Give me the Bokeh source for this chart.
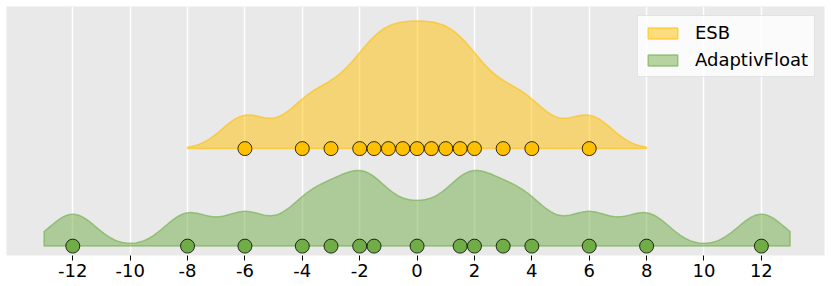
import numpy as np
from bokeh.plotting import figure
from bokeh.models import Range1d, FixedTicker, Legend, LegendItem
from bokeh.embed import file_html
from bokeh.resources import INLINE

# ---- data ----
series_names = ["ESB", "AdaptivFloat"]
esb_values = [-6, -4, -3, -2, -1.5, -1, -0.5, 0, 0.5, 1, 1.5, 2, 3, 4, 6]
adaptiv_values = [-12, -8, -6, -4, -3, -2, -1.5, 0, 1.5, 2, 3, 4, 6, 8, 12]
esb_extent = [-8, 8]
adaptiv_extent = [-13, 13]
tick_values = [-12, -10, -8, -6, -4, -2, 0, 2, 4, 6, 8, 10, 12]
tick_labels = ["-12", "-10", "-8", "-6", "-4", "-2", "0", "2", "4", "6", "8", "10", "12"]
bandwidth = 0.8

# ---- styles ----
FONT = "DejaVu Sans"
ESB_COLOR = "#FFC000"
AF_COLOR = "#70AD47"
ESB_OFFSET = 0.1015


def kde(values, lo, hi, bw, n=400):
    xs = np.linspace(lo, hi, n)
    v = np.asarray(values, dtype=float)
    d = (xs[:, None] - v[None, :]) / bw
    ys = np.exp(-0.5 * d ** 2).sum(axis=1) / (len(v) * bw * np.sqrt(2 * np.pi))
    return xs, ys


p = figure(width=831, height=286, output_backend="svg", toolbar_location=None,
           x_range=Range1d(-14.31, 14.2), y_range=Range1d(-0.00976, 0.2494),
           min_border_left=6, min_border_top=6, min_border_right=7, min_border_bottom=31)
p.background_fill_color = "#e9e9e9"
p.border_fill_color = "white"
p.outline_line_color = None

p.yaxis.visible = False
p.ygrid.visible = False
p.xgrid.grid_line_color = "white"
p.xgrid.grid_line_width = 1.5
p.xgrid.ticker = FixedTicker(ticks=tick_values)

ax = p.xaxis[0]
ax.ticker = FixedTicker(ticks=tick_values)
ax.major_label_overrides = {t: l for t, l in zip(tick_values, tick_labels)}
ax.axis_line_color = None
ax.major_tick_line_color = "black"
ax.major_tick_in = 0
ax.major_tick_out = 5
ax.minor_tick_line_color = None
ax.major_label_text_font = FONT
ax.major_label_text_font_size = "18px"
ax.major_label_text_color = "black"
ax.major_label_standoff = 3

renderers = []
for name, vals, ext, off, col in [
    (series_names[0], esb_values, esb_extent, ESB_OFFSET, ESB_COLOR),
    (series_names[1], adaptiv_values, adaptiv_extent, 0.0, AF_COLOR),
]:
    xs, ys = kde(vals, ext[0], ext[1], bandwidth)
    px = np.concatenate([[ext[0]], xs, [ext[1]]])
    py = np.concatenate([[off], ys + off, [off]])
    r = p.patch(px, py, fill_color=col, fill_alpha=0.5,
                line_color=col, line_alpha=0.6, line_width=1.5)
    renderers.append((name, r))
    p.scatter(vals, [off] * len(vals), size=14, fill_color=col,
              line_color="black", line_width=0.8)

legend = Legend(items=[LegendItem(label=n, renderers=[r]) for n, r in renderers],
                location="top_right")
legend.label_text_font = FONT
legend.label_text_font_size = "18px"
legend.label_text_color = "black"
legend.glyph_width = 37
legend.glyph_height = 14
legend.label_standoff = 14
legend.spacing = 6
legend.padding = 6
legend.margin = 9
legend.background_fill_color = "white"
legend.background_fill_alpha = 0.8
legend.border_line_color = "#cccccc"
legend.border_line_width = 1
p.add_layout(legend)

open("out.html", "w").write(file_html(p, INLINE))
